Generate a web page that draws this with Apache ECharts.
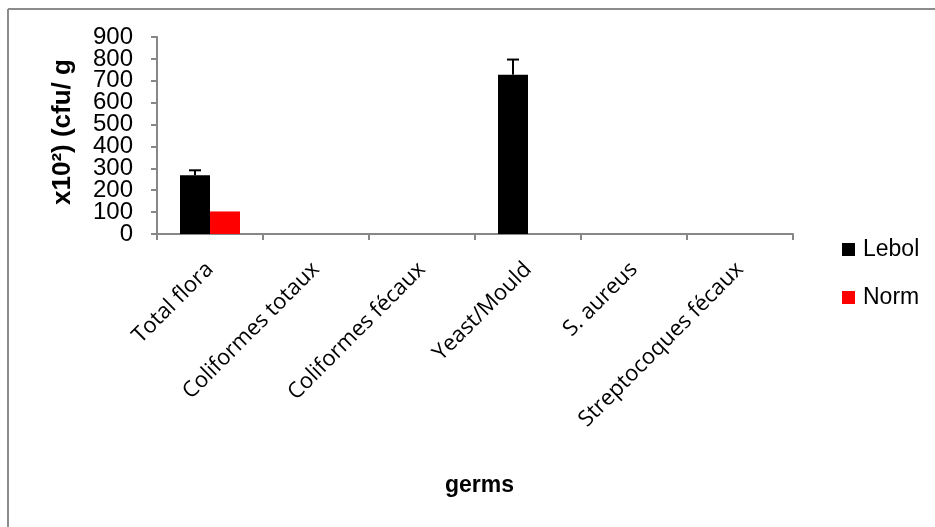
<!DOCTYPE html>
<html>
<head>
<meta charset="utf-8">
<script src="https://cdn.jsdelivr.net/npm/echarts@6/dist/echarts.min.js"></script>
<style>html,body{margin:0;padding:0;background:#fff}#c{width:935px;height:527px}</style>
</head>
<body>
<div id="c"></div>
<script>
const categories = ['Total flora', 'Coliformes totaux', 'Coliformes fécaux', 'Yeast/Mould', 'S. aureus', 'Streptocoques fécaux'];
const lebol = [268, 0, 0, 728, 0, 0];
const lebolErr = [23, 0, 0, 69, 0, 0];
const norm = [103, 0, 0, 0, 0, 0];
const yTicks = { min: 0, max: 900, interval: 100 };
const yTitle = 'x10²) (cfu/ g';
const xTitle = 'germs';

const chart = echarts.init(document.getElementById('c'), null, { renderer: 'canvas' });
const axisColor = '#878787';
const barFrac = 0.283;
const yLabelStyle = { fontFamily: 'Liberation Sans', fontSize: 24, color: '#000', margin: 24, hideOverlap: false };

const errData = lebol.map((v, i) => [i, v, v + lebolErr[i], lebolErr[i]]).filter(d => d[3] > 0);

chart.setOption({
  animation: false,
  backgroundColor: '#fff',
  grid: { left: 157, right: 142, top: 37, bottom: 293, containLabel: false },
  legend: {
    orient: 'vertical', left: 837, top: 233,
    itemWidth: 13, itemHeight: 13, itemGap: 25,
    icon: 'rect',
    textStyle: { fontFamily: 'Liberation Sans', fontSize: 23, color: '#000', padding: [0, 0, 0, 3] },
    data: ['Lebol', 'Norm']
  },
  xAxis: {
    type: 'category', data: categories,
    axisLine: { lineStyle: { color: axisColor, width: 2 } },
    axisTick: { show: true, alignWithLabel: false, length: 6, lineStyle: { color: axisColor, width: 2 } },
    axisLabel: { rotate: 45, interval: 0, margin: 32, fontFamily: 'Open Sans', fontSize: 22, color: '#000', hideOverlap: false }
  },
  yAxis: [
    {
      type: 'value', min: yTicks.min, max: yTicks.max, interval: yTicks.interval, position: 'left',
      splitLine: { show: false },
      axisLine: { show: true, lineStyle: { color: axisColor, width: 2 } },
      axisTick: { show: true, length: 6, lineStyle: { color: axisColor, width: 2 } },
      axisLabel: Object.assign({ showMinLabel: false, showMaxLabel: false }, yLabelStyle)
    },
    {
      type: 'value', min: yTicks.min, max: yTicks.max, interval: yTicks.interval, position: 'left', offset: 0,
      splitLine: { show: false },
      axisLine: { show: false },
      axisTick: { show: true, length: 6, lineStyle: { color: axisColor, width: 2 } },
      axisLabel: Object.assign({
        showMinLabel: true, showMaxLabel: true,
        formatter: function (v) { return (v === yTicks.min || v === yTicks.max) ? String(v) : ''; }
      }, yLabelStyle)
    }
  ],
  graphic: [
    { type: 'line', shape: { x1: 8, y1: 9, x2: 935, y2: 9 }, style: { stroke: '#8c8c8c', lineWidth: 2 } },
    { type: 'line', shape: { x1: 8, y1: 9, x2: 8, y2: 527 }, style: { stroke: '#8c8c8c', lineWidth: 2 } },
    { type: 'text', x: 63, y: 132, rotation: Math.PI / 2,
      style: { text: yTitle, font: 'bold 26px "Liberation Sans"', fill: '#000', align: 'center', verticalAlign: 'middle' } },
    { type: 'text', left: 445, top: 474, style: { text: xTitle, font: 'bold 23px "Liberation Sans"', fill: '#000' } }
  ],
  series: [
    { name: 'Lebol', type: 'bar', data: lebol, barWidth: (barFrac * 100) + '%', barGap: '0%', itemStyle: { color: '#000' } },
    { name: 'Norm', type: 'bar', data: norm, barWidth: (barFrac * 100) + '%', barGap: '0%', itemStyle: { color: '#ff0000' } },
    {
      type: 'custom', name: 'err', data: errData, z: 10,
      renderItem: function (params, api) {
        const idx = api.value(0);
        const base = api.coord([idx, api.value(1)]);
        const top = api.coord([idx, api.value(2)]);
        const band = api.size([1, 0])[0];
        const x = base[0] - band * barFrac / 2;
        return {
          type: 'group',
          children: [
            { type: 'line', shape: { x1: x, y1: base[1], x2: x, y2: top[1] }, style: { stroke: '#000', lineWidth: 2 } },
            { type: 'line', shape: { x1: x - 6, y1: top[1], x2: x + 6, y2: top[1] }, style: { stroke: '#000', lineWidth: 2 } }
          ]
        };
      }
    }
  ]
});
</script>
</body>
</html>
